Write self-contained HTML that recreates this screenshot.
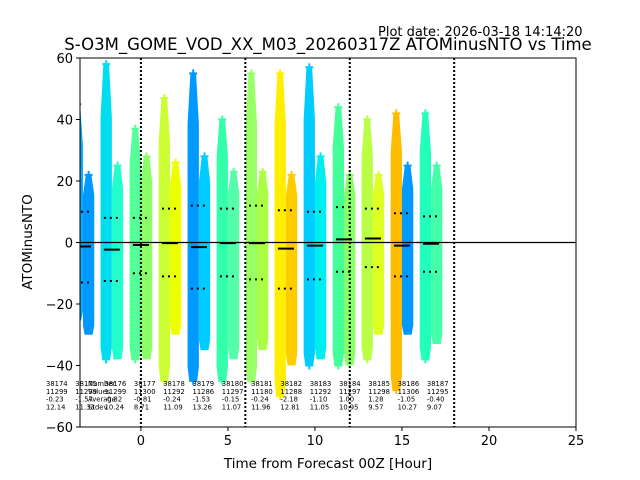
<!DOCTYPE html>
<html><head><meta charset="utf-8"><style>
body{margin:0;background:#fff;}
svg{display:block;font-family:"DejaVu Sans","Liberation Sans",sans-serif;}
</style></head><body>
<svg id="chart" width="640" height="480" viewBox="0 0 640 480" xmlns="http://www.w3.org/2000/svg">
<text x="378" y="36" font-size="13">Plot date: 2026-03-18 14:14:20</text>
<text x="328" y="50" font-size="16.5" text-anchor="middle">S-O3M_GOME_VOD_XX_M03_20260317Z ATOMinusNTO vs Time</text>
<defs><clipPath id="clip"><rect x="80" y="58" width="496" height="369"/></clipPath></defs>
<g id="marks" clip-path="url(#clip)"></g>
<g id="axes"></g>
<text x="328" y="468" font-size="13.5" text-anchor="middle">Time from Forecast 00Z [Hour]</text>
<text transform="translate(32,242) rotate(-90)" font-size="13.5" text-anchor="middle">ATOMinusNTO</text>
</svg>
<script>
const centers=[-3.33,-1.67,0,1.67,3.33,5,6.67,8.33,10,11.67,13.33,15,16.67];
const leftTop=[45,58,37,47,55,40,55,55,57,44,40,42,42];
const leftBot=[-25,-38,-38,-45,-45,-45,-45,-50,-40,-40,-38,-48,-38];
const rightTop=[22,25,28,26,28,23,23,22,28,22,22,25,25];
const rightBot=[-30,-38,-38,-30,-35,-38,-35,-40,-38,-40,-30,-30,-33];
const leftColors=["#00aaff","#00ddee","#55ff99","#ccff33","#0099ff","#33ffaa","#99ff66","#ffee00","#00ccff","#44ff99","#bbff44","#ffbb00","#22ffbb"];
const rightColors=["#0099ff","#22ffcc","#88ff66","#eeff00","#00ccff","#55ffaa","#aaff44","#ffcc00","#00eeee","#88ff66","#ddff22","#0099ff","#44ffaa"];
const medians=[-1.3,-2.3,-0.8,-0.2,-1.5,-0.2,-0.2,-2,-1,1,1.3,-1,-0.4];
const upperMarks=[10,8,8,11,12,11,12,10.5,10,11.5,11,9.5,8.5];
const lowerMarks=[-13,-12.5,-10,-11,-15,-11,-12,-15,-12,-9.5,-8,-11,-9.5];
const vlines=[0,6,12,18];
const xTicks=[0,5,10,15,20,25];
const yTicks=[-60,-40,-20,0,20,40,60];
const ids=["38174","38175","38176","38177","38178","38179","38180","38181","38182","38183","38184","38185","38186","38187"];
const counts=["11299","11299","11299","11300","11292","11286","11297","11180","11288","11292","11297","11298","11306","11295"];
const avgs=["-0.23","-1.57","-0.82","-0.81","-0.24","-1.53","-0.15","-0.24","-2.18","-1.10","1.00","1.28","-1.05","-0.40"];
const stds=["12.14","11.33","10.24","8.71","11.09","13.26","11.07","11.96","12.81","11.05","10.95","9.57","10.27","9.07"];

const X0=80,X1=576,Y0=58,Y1=427,xmin=-3.5,xmax=25,ymin=-60,ymax=60;
const sx=v=>X0+(v-xmin)/(xmax-xmin)*(X1-X0);
const sy=v=>Y1-(v-ymin)/(ymax-ymin)*(Y1-Y0);
const NS="http://www.w3.org/2000/svg";
function mk(t,a,p){const e=document.createElementNS(NS,t);for(const k in a)e.setAttribute(k,a[k]);p.appendChild(e);return e;}
const marks=document.getElementById('marks'),axes=document.getElementById('axes');
const hw=0.65;
function band(x0,x1,top,bot,col){
  const w=x1-x0,hiF=top*0.7,loF=bot*0.9;
  const pts=[[x0+w*0.15,sy(bot)],[x1-w*0.15,sy(bot)],[x1,sy(loF)],[x1,sy(hiF)],[x1-w*0.25,sy(top)],[x0+w*0.25,sy(top)],[x0,sy(hiF)],[x0,sy(loF)]];
  return mk('polygon',{points:pts.map(q=>q.join(',')).join(' '),fill:col},marks);
}
function plus(x,y,col){
  return mk('path',{d:`M${x-4},${y}h8M${x},${y-4}v8`,stroke:col,'stroke-width':2},marks);
}
centers.forEach((c,i)=>{
  const lx0=sx(c-hw),lx1=sx(c),rx1=sx(c+hw);
  const a=band(lx0,lx1,leftTop[i],leftBot[i],leftColors[i]);
  
  
  const b=band(lx1,rx1,rightTop[i],rightBot[i],rightColors[i]);
  
  
  const p1=plus((lx0+lx1)/2,sy(leftTop[i]),leftColors[i]);
  
  
  const p2=plus((lx0+lx1)/2,sy(leftBot[i]),leftColors[i]);
  
  
  const p3=plus((lx1+rx1)/2,sy(rightTop[i]),rightColors[i]);
  
  
  const m=mk('line',{x1:sx(c)-8,x2:sx(c)+8,y1:sy(medians[i]),y2:sy(medians[i]),stroke:'#000','stroke-width':2},marks);
  
  
  [upperMarks[i],lowerMarks[i]].forEach((v,j)=>{
    const d=mk('line',{x1:sx(c)-8,x2:sx(c)+8,y1:sy(v),y2:sy(v),stroke:'#000','stroke-width':2,'stroke-dasharray':'2,4'},marks);
    
    
  });
});
vlines.forEach(v=>{
  const l=mk('line',{x1:sx(v),x2:sx(v),y1:Y0,y2:Y1,stroke:'#000','stroke-width':2,'stroke-dasharray':'2,2'},marks);
  
  
});
const z=mk('line',{x1:X0,x2:X1,y1:sy(0),y2:sy(0),stroke:'#000','stroke-width':1.2},marks);


ids.forEach((id,i)=>{
  const x=46+29.3*i;
  [id,counts[i],avgs[i],stds[i]].forEach((t,r)=>{
    const e=mk('text',{x:x,y:386+7.8*r,'font-size':6.8,fill:'#000'},axes);
    e.textContent=t;
    
    
  });
});
["Number","Values","Average","Stdev"].forEach((t,r)=>{
  const e=mk('text',{x:88,y:386+7.8*r,'font-size':6.8,fill:'#000'},axes);
  e.textContent=t;
  
  
});
const f=mk('rect',{x:X0,y:Y0,width:X1-X0,height:Y1-Y0,fill:'none',stroke:'#000','stroke-width':1},axes);


xTicks.forEach(v=>{
  const t=mk('line',{x1:sx(v),x2:sx(v),y1:Y1,y2:Y1+4,stroke:'#000'},axes);
  
  
  const e=mk('text',{x:sx(v),y:Y1+18,'font-size':13,'text-anchor':'middle'},axes);
  e.textContent=v;
  
  
});
yTicks.forEach(v=>{
  const t=mk('line',{x1:X0-4,x2:X0,y1:sy(v),y2:sy(v),stroke:'#000'},axes);
  
  
  const e=mk('text',{x:X0-7,y:sy(v)+5,'font-size':13,'text-anchor':'end'},axes);
  e.textContent=v<0?'\u2212'+(-v):v;
  
  
});
</script>
</body></html>
